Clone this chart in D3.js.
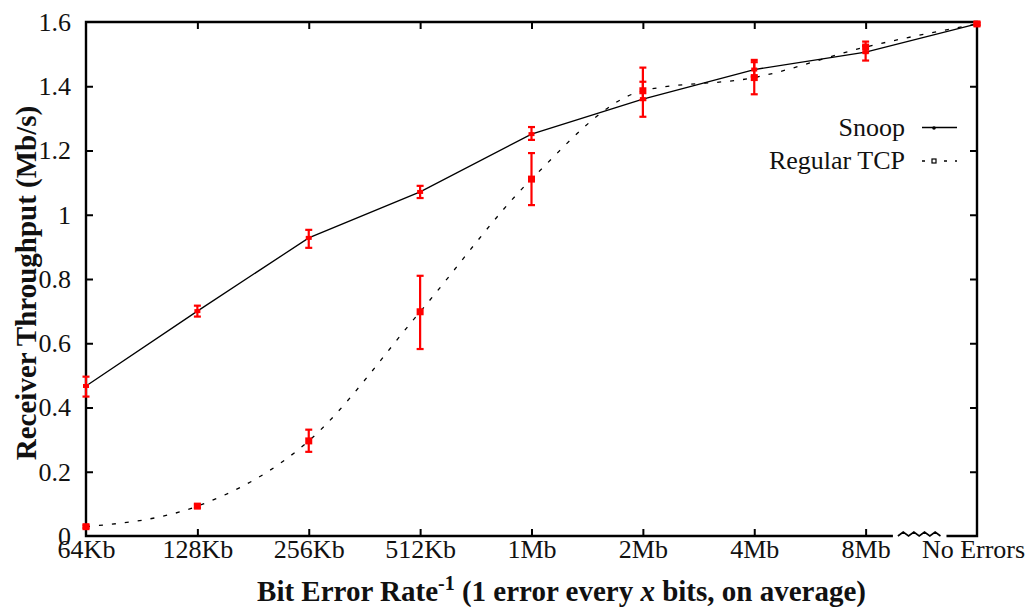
<!DOCTYPE html>
<html>
<head>
<meta charset="utf-8">
<script src="https://cdn.jsdelivr.net/npm/d3@7"></script>
<style>
  body { margin: 0; background: #fff; }
  svg { display: block; font-family: "Liberation Serif", "Times New Roman", serif; }
  .tick text { font-size: 26px; fill: #111; }
</style>
</head>
<body>
<svg id="chart" width="1029" height="607"></svg>
<script>
// x categories: inverse bit error rate
var categories = ["64Kb", "128Kb", "256Kb", "512Kb", "1Mb", "2Mb", "4Mb", "8Mb", "No Errors"];
var yTicks = [0, 0.2, 0.4, 0.6, 0.8, 1, 1.2, 1.4, 1.6];

// Snoop throughput (Mb/s) with error bar bounds
var snoop     = [0.467, 0.700, 0.928, 1.071, 1.251, 1.360, 1.452, 1.506, 1.594];
var snoopLow  = [0.434, 0.683, 0.897, 1.052, 1.233, 1.357, 1.430, 1.480, 1.590];
var snoopHigh = [0.496, 0.717, 0.953, 1.090, 1.273, 1.414, 1.482, 1.525, 1.598];

// Regular TCP throughput (Mb/s) with error bar bounds
var tcp     = [0.029, 0.093, 0.296, 0.698, 1.111, 1.386, 1.427, 1.522, 1.594];
var tcpLow  = [0.025, 0.088, 0.262, 0.582, 1.030, 1.305, 1.375, 1.505, 1.590];
var tcpHigh = [0.033, 0.098, 0.331, 0.810, 1.192, 1.458, 1.475, 1.539, 1.598];

var LEFT = 86, RIGHT = 977, TOP = 22, BOTTOM = 536;
var TICK_LEN = 7;

var svg = d3.select("#chart");

var x = d3.scalePoint().domain(categories).range([LEFT, RIGHT]);
var y = d3.scaleLinear().domain([0, 1.6]).range([BOTTOM, TOP]);

function fmt(d) { return d === 0 || d === 1 ? String(d) : d3.format(".1f")(d); }

/* Axes: ticks point inwards, mirrored on top/right without labels */
var gLeft = svg.append("g")
    .attr("transform", "translate(" + LEFT + ",0)")
    .call(d3.axisLeft(y).tickValues(yTicks).tickFormat(fmt).tickSize(-TICK_LEN).tickPadding(15));
var gRight = svg.append("g")
    .attr("transform", "translate(" + RIGHT + ",0)")
    .call(d3.axisRight(y).tickValues(yTicks.slice(1, -1)).tickFormat("").tickSize(-TICK_LEN));
var gBottom = svg.append("g")
    .attr("transform", "translate(0," + BOTTOM + ")")
    .call(d3.axisBottom(x).tickSize(-TICK_LEN).tickPadding(4));
var gTop = svg.append("g")
    .attr("transform", "translate(0," + TOP + ")")
    .call(d3.axisTop(x).tickValues(categories.slice(1, -1)).tickFormat("").tickSize(-TICK_LEN));

[gLeft, gRight, gBottom, gTop].forEach(function(g) {
    g.attr("font-family", null).attr("font-size", null);
    g.select(".domain").remove();
    g.selectAll(".tick line").attr("stroke", "#000").attr("stroke-width", 2);
});
gBottom.selectAll(".tick").filter(function(d) { return d === categories[0] || d === categories[categories.length - 1]; })
    .select("line").remove();
gBottom.selectAll(".tick").filter(function(d) { return d === "No Errors"; })
    .select("text").attr("dx", -4);
gLeft.selectAll(".tick").filter(function(d) { return d === 0 || d === 1.6; }).select("line").remove();

/* Frame with a break in the bottom axis before "No Errors" */
var step = x.step();
var breakA = x("8Mb") + step * 0.245;
var breakB = x("8Mb") + step * 0.69;
var frame = svg.append("g").attr("fill", "none").attr("stroke", "#000").attr("stroke-width", 2.4);
frame.append("path")
    .attr("d", d3.line()([[breakB + 4, BOTTOM], [RIGHT, BOTTOM], [RIGHT, TOP], [LEFT, TOP], [LEFT, BOTTOM], [breakA, BOTTOM]]));
var zig = [[breakA + 5, BOTTOM]];
var nz = 8, zw = (breakB - breakA - 7) / nz;
for (var i = 1; i < nz; i++) {
    zig.push([breakA + 5 + i * zw, BOTTOM + (i % 2 ? -4 : 0)]);
}
zig.push([breakB - 2, BOTTOM]);
frame.append("path").attr("d", d3.line()(zig)).attr("stroke-width", 1.6);

/* Series lines */
var snoopPts = categories.map(function(c, i) { return [x(c), y(snoop[i])]; });
var tcpPts = categories.map(function(c, i) { return [x(c), y(tcp[i])]; });

svg.append("path")
    .attr("d", d3.line()(snoopPts))
    .attr("fill", "none").attr("stroke", "#000").attr("stroke-width", 1.3);
svg.append("path")
    .attr("d", d3.line().curve(d3.curveMonotoneX)(tcpPts))
    .attr("fill", "none").attr("stroke", "#000").attr("stroke-width", 1.3)
    .attr("stroke-dasharray", "4,9");

svg.append("g").selectAll("circle").data(snoopPts).join("circle")
    .attr("cx", function(d) { return d[0]; }).attr("cy", function(d) { return d[1]; })
    .attr("r", 1.8).attr("fill", "#000");

/* Error bars (red) */
function errorBars(vals, lo, hi, cls) {
    var g = svg.append("g").attr("class", cls).attr("stroke", "#f00").attr("stroke-width", 2.2);
    var rows = categories.map(function(c, i) { return { c: c, v: vals[i], lo: lo[i], hi: hi[i] }; });
    g.selectAll("line.bar").data(rows).join("line").attr("class", "bar")
        .attr("x1", function(d) { return x(d.c); }).attr("x2", function(d) { return x(d.c); })
        .attr("y1", function(d) { return y(d.lo); }).attr("y2", function(d) { return y(d.hi); });
    g.selectAll("line.lo").data(rows).join("line").attr("class", "lo")
        .attr("x1", function(d) { return x(d.c) - 3.5; }).attr("x2", function(d) { return x(d.c) + 3.5; })
        .attr("y1", function(d) { return y(d.lo); }).attr("y2", function(d) { return y(d.lo); });
    g.selectAll("line.hi").data(rows).join("line").attr("class", "hi")
        .attr("x1", function(d) { return x(d.c) - 3.5; }).attr("x2", function(d) { return x(d.c) + 3.5; })
        .attr("y1", function(d) { return y(d.hi); }).attr("y2", function(d) { return y(d.hi); });
    return rows;
}
var snoopRows = errorBars(snoop, snoopLow, snoopHigh, "err-snoop");
var tcpRows = errorBars(tcp, tcpLow, tcpHigh, "err-tcp");

svg.append("g").selectAll("rect").data(snoopRows).join("rect")
    .attr("x", function(d) { return x(d.c) - 3; }).attr("y", function(d) { return y(d.v) - 2; })
    .attr("width", 6).attr("height", 4).attr("fill", "#f00");
svg.append("g").selectAll("rect").data(tcpRows).join("rect")
    .attr("x", function(d) { return x(d.c) - 3.5; }).attr("y", function(d) { return y(d.v) - 3.5; })
    .attr("width", 7).attr("height", 7).attr("fill", "#f00");

/* Legend */
var legend = svg.append("g").attr("font-size", 26).attr("fill", "#111");
legend.append("text").attr("x", 905).attr("y", 136).attr("text-anchor", "end").text("Snoop");
legend.append("line").attr("x1", 922).attr("x2", 957).attr("y1", 127.5).attr("y2", 127.5)
    .attr("stroke", "#000").attr("stroke-width", 1.4);
legend.append("circle").attr("cx", 934).attr("cy", 128).attr("r", 1.8).attr("fill", "#000");
legend.append("text").attr("x", 905).attr("y", 169).attr("text-anchor", "end").text("Regular TCP");
legend.append("line").attr("x1", 922).attr("x2", 957).attr("y1", 161).attr("y2", 161)
    .attr("stroke", "#000").attr("stroke-width", 1.4).attr("stroke-dasharray", "3,8");
legend.append("rect").attr("x", 932).attr("y", 159).attr("width", 4).attr("height", 4)
    .attr("fill", "#fff").attr("stroke", "#000").attr("stroke-width", 1.2);

/* Axis titles */
svg.append("text")
    .attr("transform", "translate(36," + ((TOP + BOTTOM) / 2 + 4) + ") rotate(-90)")
    .attr("text-anchor", "middle").attr("font-size", 29).attr("font-weight", "bold").attr("fill", "#111")
    .text("Receiver Throughput (Mb/s)");

var xt = svg.append("text")
    .attr("x", (LEFT + RIGHT) / 2 + 30).attr("y", 601)
    .attr("text-anchor", "middle").attr("font-size", 29).attr("font-weight", "bold").attr("fill", "#111");
xt.append("tspan").text("Bit Error Rate");
xt.append("tspan").attr("dy", -11).attr("font-size", 20).text("-1");
xt.append("tspan").attr("dy", 11).text(" (1 error every ");
xt.append("tspan").attr("font-style", "italic").text("x");
xt.append("tspan").text(" bits, on average)");
</script>
</body>
</html>
